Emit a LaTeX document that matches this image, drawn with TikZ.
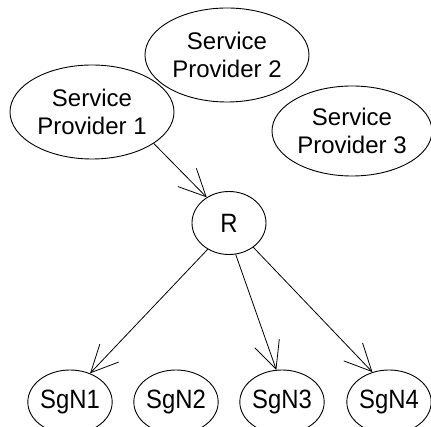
\documentclass[tikz,border=0pt]{standalone}
\usepackage{fontspec}
\setmainfont{Liberation Sans}
\newfontfamily\narrowfont[FakeStretch=0.9]{Liberation Sans}
\usetikzlibrary{shapes.geometric,arrows.meta}
\begin{document}
\begin{tikzpicture}[x=1pt,y=-1pt,
  ell/.style={draw,ellipse,inner sep=0pt,line width=0.9pt,align=center,
    font=\fontsize{24}{28}\selectfont},
  bigell/.style={ell,minimum width=164pt,minimum height=94pt},
  smallell/.style={ell,minimum width=73pt,minimum height=64pt,
    font=\narrowfont\fontsize{26.5}{30}\selectfont},
  conn/.style={line width=0.8pt,-{Straight Barb[length=27pt,width=26pt,line width=0.8pt]}}]
\useasboundingbox (0,0) rectangle (431,427);
\node[bigell] (sp2) at (227,55) {Service\\Provider 2};
\node[bigell] (sp1) at (92,112) {Service\\Provider 1};
\node[ell,minimum width=160pt,minimum height=90pt] (sp3) at (352,131) {Service\\Provider 3};
\node[smallell,minimum width=74pt,minimum height=63pt] (r) at (229,223) {R};
\node[smallell] (s1) at (70,402) {SgN1};
\node[smallell] (s2) at (176,402) {SgN2};
\node[smallell] (s3) at (282,402) {SgN3};
\node[smallell] (s4) at (389,402) {SgN4};
\draw[conn] (sp1.-27) -- (r.131);
\draw[conn] (r.-129) -- (s1.55);
\draw[conn] (r.-78) -- (s3.100);
\draw[conn] (r.-45) -- (s4.119);
\end{tikzpicture}
\end{document}
